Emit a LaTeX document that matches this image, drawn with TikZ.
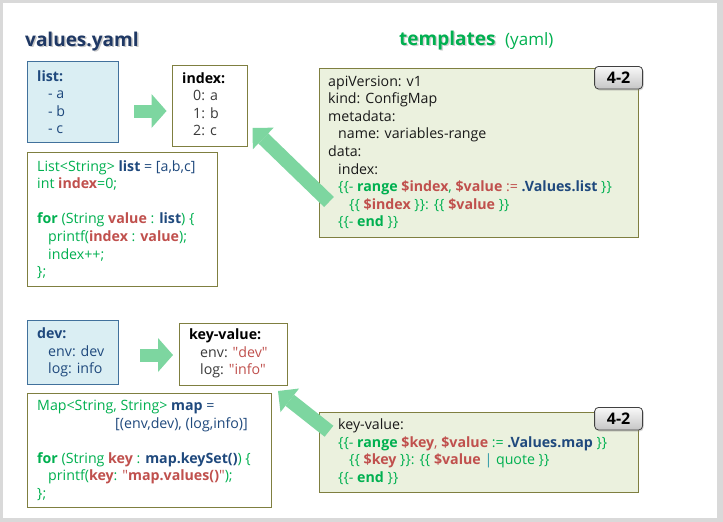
\documentclass[tikz,border=0pt]{standalone}
\usepackage{fontspec}
\setmainfont{Open Sans}
\usepackage{tikz}
\usetikzlibrary{arrows.meta,calc,shadows}
\definecolor{titleblue}{HTML}{1F3864}
\definecolor{kblue}{HTML}{1F497D}
\definecolor{kred}{HTML}{C0504D}
\definecolor{kgreen}{HTML}{00B050}
\definecolor{kteal}{HTML}{2E9AA8}
\definecolor{boxblue}{HTML}{DAEEF3}
\definecolor{lineblue}{HTML}{41719C}
\definecolor{boxgreen}{HTML}{EBF1DE}
\definecolor{boxline}{HTML}{7F7F40}
\definecolor{mint}{HTML}{7DD6A0}
\definecolor{framegray}{HTML}{D9D9D9}
\definecolor{tgray}{HTML}{3A3A3A}
\newcommand{\fsz}{\fontsize{14.2pt}{17.6pt}\selectfont}
\newcommand{\fttl}{\fontsize{19pt}{22pt}\selectfont\bfseries}
\newcommand{\kg}[1]{\textcolor{kgreen}{#1}}
\newcommand{\kgb}[1]{\textcolor{kgreen}{\textbf{#1}}}
\newcommand{\kr}[1]{\textcolor{kred}{\textbf{#1}}}
\newcommand{\kb}[1]{\textcolor{kblue}{\textbf{#1}}}
\newcommand{\dq}{\textquotedbl}
\tikzstyle{vb} = [draw=lineblue, fill=boxblue, line width=1pt, inner sep=0pt, anchor=north west]
\tikzstyle{ob} = [draw=boxline, fill=white, line width=1pt, inner sep=0pt, anchor=north west]
\tikzstyle{tb} = [draw=boxline, fill=boxgreen, line width=1pt, inner sep=0pt, anchor=north west]
% multi-line texts: base = baseline of the last line
\tikzstyle{tx} = [anchor=base west, inner sep=0pt, align=left, font=\fsz]
\tikzstyle{tag} = [draw=black!75, line width=0.8pt, rounded corners=4pt, top color=gray!5, bottom color=gray!45, minimum width=48pt, minimum height=22.6pt, inner sep=0pt, anchor=north east, font=\fontsize{16pt}{18pt}\selectfont\bfseries, drop shadow={opacity=0.3, shadow xshift=1pt, shadow yshift=-1.5pt}]
\tikzstyle{ba} = [mint, line width=13pt, -{Triangle[length=15pt,width=34pt,line width=0pt]}]
\tikzstyle{bd} = [mint, line width=14pt, -{Triangle[length=15pt,width=30pt,line width=0pt]}]

\begin{document}
\begin{tikzpicture}[yscale=-1]
			\useasboundingbox (0pt,0pt) rectangle (723pt,522pt);
			\fill[framegray] (0pt,0pt) rectangle (723pt,522pt);
			\fill[white] (3pt,3pt) rectangle (717pt,518pt);
			% titles
			\node[anchor=base west, inner sep=0pt, font=\fttl, text=black, opacity=0.22] (vtsh) at (26.5pt,47.5pt) {values.yaml};
			\node[anchor=base west, inner sep=0pt, font=\fttl, text=titleblue] (vt) at (25pt,46pt) {values.yaml};
			\node[anchor=base west, inner sep=0pt, font=\fttl, text=black, opacity=0.18] (ttsh) at (400.5pt,46.5pt) {templates};
			\node[anchor=base west, inner sep=0pt, font=\fttl, text=kgreen] (tt) at (399pt,45pt) {templates};
			\node[anchor=base west, inner sep=0pt, font=\fontsize{17pt}{20pt}\selectfont, text=kgreen] (ty) at (505pt,45pt) {(yaml)};
			% upper part
			\node[vb, minimum width=91pt, minimum height=81pt] (list) at (27pt,61pt) {};
			\node[tx, text=kblue] (listt) at (37pt,133.8pt) {\textbf{list:}\\\hspace*{11pt}- a\\\hspace*{11pt}- b\\\hspace*{11pt}- c};
			\node[ob, minimum width=74.5pt, minimum height=81pt] (idx) at (172pt,65pt) {};
			\node[tx, text=tgray] (idxt) at (182pt,135.8pt) {\textbf{\textcolor{black}{index:}}\\\hspace*{11pt}0: a\\\hspace*{11pt}1: b\\\hspace*{11pt}2: c};
			\node[ob, minimum width=189.5pt, minimum height=134pt] (code1) at (27pt,152pt) {};
			\node[tx, text=kgreen] (code1t) at (37pt,276.6pt) {List<String> \kb{list} \textcolor{kblue}{= [a,b,c]}\\int \kr{index}=0;\\\mbox{}\\\kgb{for} (String \kr{value} : \kb{list}) \{\\\hspace*{11pt}printf(\kr{index} : \kr{value});\\\hspace*{11pt}index++;\\\};};
			\node[tb, minimum width=319pt, minimum height=169pt] (tmpl1) at (319pt,68pt) {};
			\node[tx, text=black!90] (tmpl1t) at (328pt,226.8pt) {apiVersion: v1\\kind: ConfigMap\\metadata:\\\hspace*{10pt}name: variables-range\\data:\\\hspace*{10pt}index:\\\hspace*{10pt}\kg{\{\{-} \kgb{range} \kr{\$index}\kg{,} \kr{\$value} \textcolor{kred}{:=} \kb{.Values.list} \kg{\}\}}\\\hspace*{21pt}\kg{\{\{} \kr{\$index} \kg{\}\}: \{\{} \kr{\$value} \kg{\}\}}\\\hspace*{10pt}\kg{\{\{-} \kgb{end} \kg{\}\}}};
			% lower part
			\node[vb, minimum width=91pt, minimum height=63.5pt] (dev) at (27pt,320pt) {};
			\node[tx, text=kblue] (devt) at (37pt,373.7pt) {\textbf{dev:}\\\hspace*{11pt}env: dev\\\hspace*{11pt}log: info};
			\node[ob, minimum width=108pt, minimum height=62pt] (kv) at (179pt,323pt) {};
			\node[tx, text=tgray] (kvt) at (189pt,374.7pt) {\textbf{\textcolor{black}{key-value:}}\\\hspace*{11pt}env: \textcolor{kred}{\dq dev\dq}\\\hspace*{11pt}log: \textcolor{kred}{\dq info\dq}};
			\node[ob, minimum width=244pt, minimum height=114pt] (code2) at (27pt,393pt) {};
			\node[tx, text=kgreen] (code2t) at (37pt,498.5pt) {Map<String, String> \kb{map} \textcolor{kblue}{=}\\\hspace*{78pt}\textcolor{kblue}{[(env,dev), (log,info)]}\\\mbox{}\\\kgb{for} (String \kr{key} : \kb{map.keySet()}) \{\\\hspace*{11pt}printf(\kr{key}: \textcolor{kred}{\dq\textbf{map.values()}\dq});\\\};};
			\node[tb, minimum width=319pt, minimum height=80.5pt] (tmpl2) at (319pt,411.5pt) {};
			\node[tx, text=black!90] (tmpl2t) at (338pt,482.3pt) {key-value:\\\kg{\{\{-} \kgb{range} \kr{\$key}\textcolor{kred}{,} \kr{\$value} \kg{:=} \kb{.Values.map} \kg{\}\}}\\\hspace*{11pt}\kg{\{\{} \kr{\$key} \kg{\}\}: \{\{} \kr{\$value} \textcolor{kteal}{|} \kg{quote \}\}}\\\kg{\{\{-} \kgb{end} \kg{\}\}}};
			% arrows
			\coordinate (a1) at (134pt,111pt);
			\coordinate (a2) at (140pt,355pt);
			\draw[ba, shorten >=5.5pt] (a1) -- (a1 -| idx.west);
			\draw[ba, shorten >=6pt] (a2) -- (a2 -| kv.west);
			\draw[bd] ($(tmpl1.south west)+(10pt,-36pt)$) -- ($(idx.south east)+(5pt,-19pt)$);
			\draw[bd] ($(tmpl2.west)+(10pt,-21pt)$) -- ($(kv.south east)+(-10pt,5pt)$);
			% tags
			\node[tag] (tag1) at (643pt,66pt) {4-2};
			\node[tag] (tag2) at (643pt,407pt) {4-2};
		\end{tikzpicture}
\end{document}
